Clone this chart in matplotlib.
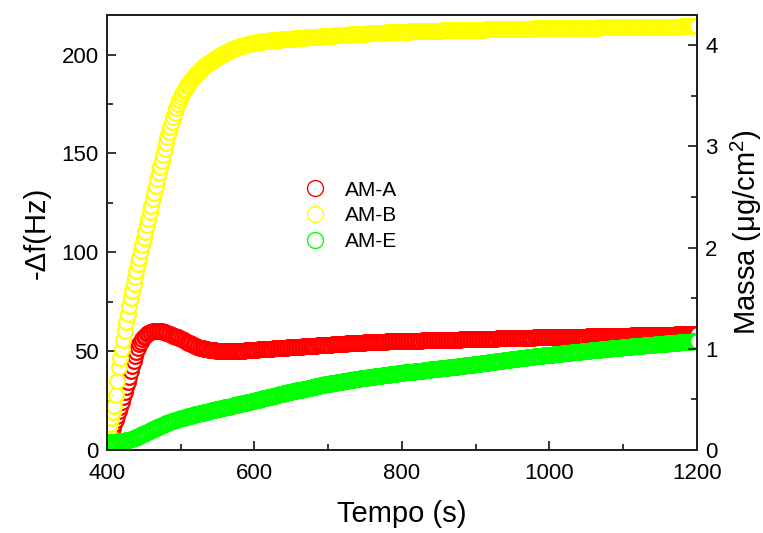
import numpy as np
import matplotlib
matplotlib.use("Agg")
import matplotlib.pyplot as plt
from matplotlib.ticker import MultipleLocator

plt.rcParams['font.family'] = ['Liberation Sans', 'DejaVu Sans']
plt.rcParams['mathtext.fontset'] = 'custom'
plt.rcParams['mathtext.rm'] = 'Liberation Sans'
plt.rcParams['mathtext.it'] = 'Liberation Sans:italic'

# dados: -delta f (Hz), um ponto a cada 2 s a partir de 400 s
t0, dt = 400, 2

am_a = [
    5.0, 6.0, 7.5, 9.0, 11.0, 13.0, 15.0, 17.0, 19.5, 22.0,
    24.5, 27.0, 29.5, 32.0, 34.5, 37.0, 39.8, 42.5, 45.2, 47.6,
    49.8, 51.8, 53.4, 54.8, 56.0, 57.0, 57.9, 58.6, 59.2, 59.6,
    59.9, 60.1, 60.3, 60.4, 60.4, 60.4, 60.3, 60.1, 59.9, 59.7,
    59.4, 59.1, 58.8, 58.5, 58.2, 57.9, 57.6, 57.3, 57.0, 56.7,
    56.3, 55.9, 55.5, 55.1, 54.7, 54.3, 53.9, 53.5, 53.2, 52.9,
    52.6, 52.3, 52.0, 51.8, 51.6, 51.4, 51.2, 51.0, 50.9, 50.8,
    50.7, 50.6, 50.5, 50.4, 50.3, 50.3, 50.2, 50.2, 50.1, 50.1,
    50.1, 50.0, 50.0, 50.0, 50.0, 50.0, 50.0, 50.1, 50.1, 50.1,
    50.2, 50.2, 50.3, 50.3, 50.4, 50.4, 50.5, 50.5, 50.6, 50.6,
    50.7, 50.8, 50.8, 50.9, 50.9, 51.0, 51.0, 51.1, 51.1, 51.2,
    51.2, 51.3, 51.3, 51.4, 51.4, 51.5, 51.5, 51.6, 51.6, 51.7,
    51.7, 51.8, 51.8, 51.9, 51.9, 52.0, 52.0, 52.1, 52.1, 52.2,
    52.2, 52.3, 52.3, 52.4, 52.4, 52.5, 52.5, 52.6, 52.6, 52.7,
    52.7, 52.8, 52.8, 52.9, 52.9, 53.0, 53.0, 53.1, 53.1, 53.2,
    53.2, 53.3, 53.3, 53.4, 53.4, 53.5, 53.5, 53.6, 53.6, 53.7,
    53.7, 53.8, 53.8, 53.9, 53.9, 54.0, 54.0, 54.0, 54.1, 54.1,
    54.2, 54.2, 54.2, 54.3, 54.3, 54.4, 54.4, 54.4, 54.5, 54.5,
    54.5, 54.6, 54.6, 54.6, 54.7, 54.7, 54.7, 54.8, 54.8, 54.8,
    54.9, 54.9, 54.9, 55.0, 55.0, 55.0, 55.0, 55.1, 55.1, 55.1,
    55.1, 55.1, 55.1, 55.2, 55.2, 55.2, 55.2, 55.2, 55.3, 55.3,
    55.3, 55.3, 55.3, 55.3, 55.4, 55.4, 55.4, 55.4, 55.4, 55.5,
    55.5, 55.5, 55.5, 55.5, 55.6, 55.6, 55.6, 55.6, 55.6, 55.6,
    55.7, 55.7, 55.7, 55.7, 55.7, 55.8, 55.8, 55.8, 55.8, 55.8,
    55.9, 55.9, 55.9, 55.9, 55.9, 56.0, 56.0, 56.0, 56.0, 56.0,
    56.1, 56.1, 56.1, 56.1, 56.1, 56.2, 56.2, 56.2, 56.2, 56.2,
    56.3, 56.3, 56.3, 56.3, 56.3, 56.4, 56.4, 56.4, 56.4, 56.4,
    56.5, 56.5, 56.5, 56.5, 56.5, 56.6, 56.6, 56.6, 56.6, 56.6,
    56.7, 56.7, 56.7, 56.7, 56.7, 56.8, 56.8, 56.8, 56.8, 56.8,
    56.9, 56.9, 56.9, 56.9, 56.9, 56.9, 57.0, 57.0, 57.0, 57.0,
    57.0, 57.0, 57.1, 57.1, 57.1, 57.1, 57.1, 57.1, 57.2, 57.2,
    57.2, 57.2, 57.2, 57.2, 57.3, 57.3, 57.3, 57.3, 57.3, 57.3,
    57.4, 57.4, 57.4, 57.4, 57.4, 57.4, 57.5, 57.5, 57.5, 57.5,
    57.5, 57.5, 57.6, 57.6, 57.6, 57.6, 57.6, 57.6, 57.7, 57.7,
    57.7, 57.7, 57.7, 57.7, 57.8, 57.8, 57.8, 57.8, 57.8, 57.8,
    57.9, 57.9, 57.9, 57.9, 57.9, 57.9, 58.0, 58.0, 58.0, 58.0,
    58.0, 58.0, 58.1, 58.1, 58.1, 58.1, 58.1, 58.1, 58.2, 58.2,
    58.2, 58.2, 58.2, 58.2, 58.3, 58.3, 58.3, 58.3, 58.3, 58.3,
    58.4, 58.4, 58.4, 58.4, 58.4, 58.4, 58.5, 58.5, 58.5, 58.5,
    58.5, 58.5, 58.6, 58.6, 58.6, 58.6, 58.6, 58.6, 58.7, 58.7,
    58.7,
]

am_b = [
    8.0, 10.0, 13.0, 16.0, 19.0, 22.5, 28.0, 35.0, 42.0, 46.5,
    51.0, 55.5, 60.0, 64.5, 69.0, 73.0, 77.0, 80.5, 84.0, 87.3,
    90.6, 93.9, 97.2, 100.5, 103.8, 107.1, 110.4, 113.7, 117.0, 120.3,
    123.6, 126.9, 130.2, 133.5, 136.8, 140.0, 143.2, 146.3, 149.4, 152.4,
    155.3, 158.1, 160.8, 163.4, 165.9, 168.3, 170.6, 172.8, 174.9, 176.8,
    178.5, 180.0, 181.4, 182.7, 183.9, 185.0, 186.0, 187.0, 187.9, 188.8,
    189.6, 190.4, 191.2, 191.9, 192.6, 193.3, 194.0, 194.6, 195.2, 195.8,
    196.4, 196.9, 197.4, 197.9, 198.4, 198.9, 199.3, 199.7, 200.1, 200.5,
    200.9, 201.3, 201.7, 202.0, 202.3, 202.6, 202.9, 203.2, 203.5, 203.8,
    204.1, 204.3, 204.5, 204.7, 204.9, 205.1, 205.3, 205.5, 205.7, 205.9,
    206.0, 206.1, 206.2, 206.3, 206.4, 206.5, 206.6, 206.7, 206.8, 206.9,
    207.0, 207.1, 207.2, 207.2, 207.3, 207.4, 207.5, 207.5, 207.6, 207.7,
    207.7, 207.8, 207.9, 207.9, 208.0, 208.1, 208.1, 208.2, 208.2, 208.3,
    208.4, 208.4, 208.5, 208.5, 208.6, 208.7, 208.7, 208.8, 208.8, 208.9,
    208.9, 209.0, 209.0, 209.1, 209.1, 209.2, 209.2, 209.3, 209.3, 209.4,
    209.4, 209.5, 209.5, 209.6, 209.6, 209.7, 209.7, 209.8, 209.8, 209.9,
    209.9, 210.0, 210.0, 210.1, 210.1, 210.2, 210.2, 210.3, 210.3, 210.4,
    210.4, 210.4, 210.5, 210.5, 210.6, 210.6, 210.6, 210.7, 210.7, 210.8,
    210.8, 210.8, 210.9, 210.9, 211.0, 211.0, 211.0, 211.1, 211.1, 211.1,
    211.2, 211.2, 211.2, 211.3, 211.3, 211.3, 211.4, 211.4, 211.4, 211.5,
    211.5, 211.5, 211.6, 211.6, 211.6, 211.6, 211.7, 211.7, 211.7, 211.7,
    211.8, 211.8, 211.8, 211.8, 211.9, 211.9, 211.9, 211.9, 212.0, 212.0,
    212.0, 212.0, 212.0, 212.1, 212.1, 212.1, 212.1, 212.1, 212.2, 212.2,
    212.2, 212.2, 212.2, 212.3, 212.3, 212.3, 212.3, 212.3, 212.4, 212.4,
    212.4, 212.4, 212.4, 212.4, 212.5, 212.5, 212.5, 212.5, 212.5, 212.5,
    212.6, 212.6, 212.6, 212.6, 212.6, 212.6, 212.7, 212.7, 212.7, 212.7,
    212.7, 212.7, 212.8, 212.8, 212.8, 212.8, 212.8, 212.8, 212.9, 212.9,
    212.9, 212.9, 212.9, 212.9, 212.9, 213.0, 213.0, 213.0, 213.0, 213.0,
    213.0, 213.0, 213.1, 213.1, 213.1, 213.1, 213.1, 213.1, 213.1, 213.2,
    213.2, 213.2, 213.2, 213.2, 213.2, 213.2, 213.2, 213.3, 213.3, 213.3,
    213.3, 213.3, 213.3, 213.3, 213.3, 213.4, 213.4, 213.4, 213.4, 213.4,
    213.4, 213.4, 213.4, 213.4, 213.5, 213.5, 213.5, 213.5, 213.5, 213.5,
    213.5, 213.5, 213.5, 213.5, 213.6, 213.6, 213.6, 213.6, 213.6, 213.6,
    213.6, 213.6, 213.6, 213.6, 213.7, 213.7, 213.7, 213.7, 213.7, 213.7,
    213.7, 213.7, 213.7, 213.7, 213.7, 213.8, 213.8, 213.8, 213.8, 213.8,
    213.8, 213.8, 213.8, 213.8, 213.8, 213.8, 213.9, 213.9, 213.9, 213.9,
    213.9, 213.9, 213.9, 213.9, 213.9, 213.9, 213.9, 214.0, 214.0, 214.0,
    214.0, 214.0, 214.0, 214.0, 214.0, 214.0, 214.0, 214.0, 214.1, 214.1,
    214.1, 214.1, 214.1, 214.1, 214.1, 214.1, 214.1, 214.1, 214.1, 214.2,
    214.2, 214.2, 214.2, 214.2, 214.2, 214.2, 214.2, 214.2, 214.2, 214.2,
    214.3,
]

am_e = [
    4.0, 4.0, 4.1, 4.1, 4.2, 4.2, 4.3, 4.3, 4.4, 4.4,
    4.5, 4.6, 4.7, 4.9, 5.0, 5.2, 5.4, 5.7, 5.9, 6.2,
    6.5, 6.8, 7.2, 7.5, 7.9, 8.2, 8.6, 8.9, 9.3, 9.6,
    10.0, 10.4, 10.7, 11.1, 11.4, 11.8, 12.1, 12.5, 12.8, 13.2,
    13.5, 13.8, 14.0, 14.3, 14.5, 14.8, 15.0, 15.3, 15.5, 15.8,
    16.0, 16.2, 16.4, 16.6, 16.8, 17.0, 17.2, 17.4, 17.6, 17.8,
    18.0, 18.2, 18.4, 18.5, 18.7, 18.9, 19.1, 19.3, 19.4, 19.6,
    19.8, 20.0, 20.1, 20.3, 20.5, 20.7, 20.8, 21.0, 21.2, 21.3,
    21.5, 21.7, 21.9, 22.0, 22.2, 22.4, 22.6, 22.8, 22.9, 23.1,
    23.3, 23.5, 23.7, 23.8, 24.0, 24.2, 24.3, 24.5, 24.7, 24.8,
    25.0, 25.2, 25.4, 25.5, 25.7, 25.9, 26.1, 26.3, 26.4, 26.6,
    26.8, 27.0, 27.2, 27.3, 27.5, 27.7, 27.9, 28.1, 28.2, 28.4,
    28.6, 28.8, 29.0, 29.1, 29.3, 29.5, 29.7, 29.8, 30.0, 30.2,
    30.3, 30.5, 30.6, 30.8, 31.0, 31.1, 31.3, 31.4, 31.6, 31.8,
    31.9, 32.1, 32.2, 32.4, 32.6, 32.7, 32.9, 33.0, 33.2, 33.4,
    33.5, 33.6, 33.8, 33.9, 34.0, 34.1, 34.2, 34.4, 34.5, 34.6,
    34.7, 34.8, 35.0, 35.1, 35.2, 35.3, 35.4, 35.6, 35.7, 35.8,
    35.9, 36.0, 36.2, 36.3, 36.4, 36.5, 36.6, 36.7, 36.8, 36.9,
    37.0, 37.1, 37.2, 37.3, 37.4, 37.5, 37.6, 37.7, 37.8, 37.9,
    38.0, 38.1, 38.2, 38.3, 38.4, 38.5, 38.6, 38.7, 38.8, 38.9,
    39.0, 39.1, 39.2, 39.3, 39.4, 39.4, 39.5, 39.6, 39.7, 39.8,
    39.9, 40.0, 40.1, 40.1, 40.2, 40.3, 40.4, 40.5, 40.6, 40.7,
    40.8, 40.8, 40.9, 41.0, 41.1, 41.2, 41.3, 41.4, 41.5, 41.5,
    41.6, 41.7, 41.8, 41.9, 42.0, 42.1, 42.1, 42.2, 42.3, 42.4,
    42.5, 42.6, 42.7, 42.8, 42.8, 42.9, 43.0, 43.1, 43.2, 43.3,
    43.4, 43.5, 43.6, 43.7, 43.8, 43.9, 44.0, 44.1, 44.2, 44.3,
    44.4, 44.5, 44.6, 44.7, 44.8, 44.9, 45.0, 45.1, 45.2, 45.3,
    45.4, 45.5, 45.6, 45.7, 45.8, 45.9, 46.0, 46.1, 46.2, 46.3,
    46.4, 46.5, 46.6, 46.7, 46.7, 46.8, 46.9, 47.0, 47.1, 47.2,
    47.3, 47.4, 47.5, 47.5, 47.6, 47.7, 47.8, 47.9, 48.0, 48.1,
    48.2, 48.2, 48.3, 48.4, 48.5, 48.6, 48.6, 48.7, 48.8, 48.9,
    49.0, 49.0, 49.1, 49.2, 49.3, 49.4, 49.4, 49.5, 49.6, 49.7,
    49.8, 49.8, 49.9, 50.0, 50.1, 50.1, 50.2, 50.3, 50.4, 50.4,
    50.5, 50.6, 50.7, 50.7, 50.8, 50.9, 51.0, 51.0, 51.1, 51.2,
    51.3, 51.3, 51.4, 51.5, 51.6, 51.6, 51.7, 51.8, 51.8, 51.9,
    52.0, 52.0, 52.1, 52.2, 52.2, 52.3, 52.4, 52.4, 52.5, 52.5,
    52.6, 52.7, 52.7, 52.8, 52.9, 52.9, 53.0, 53.0, 53.1, 53.2,
    53.2, 53.3, 53.4, 53.4, 53.5, 53.5, 53.6, 53.7, 53.7, 53.8,
    53.9, 53.9, 54.0, 54.0, 54.1, 54.2, 54.2, 54.3, 54.4, 54.4,
    54.5, 54.5, 54.6, 54.7, 54.7, 54.8, 54.8, 54.9, 55.0, 55.0,
    55.1,
]

labels = ['AM-A', 'AM-B', 'AM-E']
cores = ['#ff0000', '#ffff00', '#00ff00']

fig = plt.figure(figsize=(7.63, 5.33), dpi=100)
ax = fig.add_axes([0.1402, 0.1557, 0.7733, 0.8162])

for serie, lab, c in zip([am_a, am_b, am_e], labels, cores):
    tempo = t0 + dt * np.arange(len(serie))
    ax.plot(tempo, serie, 'o', ms=10.6, mfc='white', mec=c, mew=1.6, label=lab)

ax.set_xlim(400, 1200)
ax.set_ylim(0, 220)
ax.xaxis.set_major_locator(MultipleLocator(200))
ax.xaxis.set_minor_locator(MultipleLocator(100))
ax.yaxis.set_major_locator(MultipleLocator(50))
ax.yaxis.set_minor_locator(MultipleLocator(25))
ax.tick_params(which='both', direction='in', labelsize=16, width=1.1,
               top=False, right=False)
ax.tick_params(axis='x', pad=9)
ax.tick_params(axis='y', pad=6)
ax.tick_params(which='major', length=6.5)
ax.tick_params(which='minor', length=4)
for s in ax.spines.values():
    s.set_linewidth(1.4)
    s.set_color('#222222')

ax.set_xlabel('Tempo (s)', fontsize=21, labelpad=12)
ax.set_ylabel('-Δf(Hz)', fontsize=21, labelpad=8)

ax2 = ax.twinx()
ax2.set_ylim(0, 4.3)
ax2.yaxis.set_major_locator(MultipleLocator(1))
ax2.yaxis.set_minor_locator(MultipleLocator(0.5))
ax2.tick_params(which='both', direction='in', labelsize=16, width=1.1, pad=6)
ax2.tick_params(which='major', length=6.5)
ax2.tick_params(which='minor', length=4)
for s in ax2.spines.values():
    s.set_linewidth(1.4)
    s.set_color('#222222')
ax2.set_ylabel('Massa (μg/cm$^2$)', fontsize=21, labelpad=8)

leg = ax.legend(loc='upper left', bbox_to_anchor=(0.335, 0.619), frameon=False,
                fontsize=15, handlelength=1.0, handletextpad=0.94,
                labelspacing=0.32, borderpad=0, borderaxespad=0)
for h in leg.legend_handles:
    h.set_markeredgewidth(1.0)
    h.set_markersize(11.5)

fig.savefig('out.png', dpi=100)
